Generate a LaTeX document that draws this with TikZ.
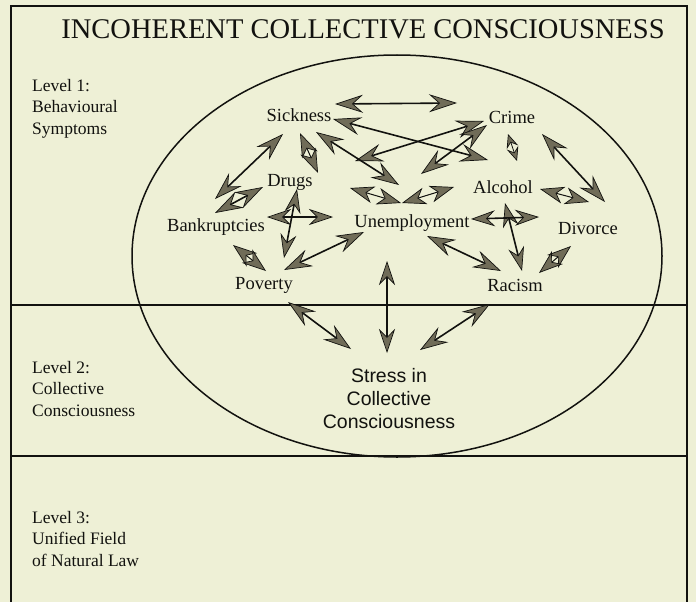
\documentclass[tikz,border=0pt]{standalone}
\usepackage{fontspec}
\setmainfont{Liberation Serif}
\newfontfamily\sansf{Liberation Sans}
\usetikzlibrary{arrows.meta}
\definecolor{bg}{RGB}{238,240,214}
\definecolor{ink}{RGB}{18,18,15}
\definecolor{headfill}{RGB}{112,108,88}
\tikzset{
  tipbig/.tip={Stealth[length=28pt,width=18pt,inset=10pt,fill=headfill,line width=0.7pt]},
  tipmid/.tip={Stealth[length=24pt,width=16pt,inset=8pt,fill=headfill,line width=0.7pt]},
  tipkite/.tip={Stealth[length=24pt,width=17pt,inset=7pt,fill=headfill,line width=0.7pt]},
  tiptiny/.tip={Stealth[length=14pt,width=12pt,inset=5pt,fill=headfill,line width=0.7pt]},
  arr/.style={draw=ink, line width=1.6pt, tipbig-tipbig},
  arrm/.style={draw=ink, line width=1.6pt, tipmid-tipmid},
  kite/.style={draw=ink, line width=1pt, tipkite-tipkite},
  star/.style={draw=ink, line width=0.8pt, tiptiny-tiptiny},
  lbl/.style={font=\fontsize{18.5}{20}\selectfont, inner sep=0pt, text=ink},
  lvl/.style={font=\fontsize{17.5}{21.5}\selectfont, align=left, anchor=north west, inner sep=0pt, text=ink},
  frame/.style={draw=ink, line width=1.4pt}
}
\begin{document}
\begin{tikzpicture}[x=1pt,y=-1pt]
\fill[bg] (0,0) rectangle (696,602);
\useasboundingbox (0,0) rectangle (696,602);
% frame and level separators
\draw[frame] (11,602) -- (11,6) -- (687,6) -- (687,602);
\draw[frame] (11,305) -- (687,305);
\draw[frame] (11,456) -- (687,456);
% ellipse
\draw[ink, line width=1.5pt] (397,256) ellipse [x radius=265pt, y radius=201pt];
% title
\node[font=\fontsize{28.5}{30}\selectfont, inner sep=0pt, text=ink] (title) at (363,29) {INCOHERENT COLLECTIVE CONSCIOUSNESS};
% level labels
\node[lvl] (lv1) at (32,79) {Level 1:\\Behavioural\\Symptoms};
\node[lvl] (lv2) at (32,361) {Level 2:\\Collective\\Consciousness};
\node[lvl] (lv3) at (32,511) {Level 3:\\Unified Field\\of Natural Law};
% symptom nodes
\node[lbl] (sick) at (299,115) {Sickness};
\node[lbl] (crime) at (512,117) {Crime};
\node[lbl] (drugs) at (290,182) {Drugs};
\node[lbl] (alc) at (503,187) {Alcohol};
\node[lbl] (bank) at (216,227) {Bankruptcies};
\node[lbl] (unemp) at (412,223) {Unemployment};
\node[lbl] (div) at (588,228) {Divorce};
\node[lbl] (pov) at (264,285) {Poverty};
\node[lbl] (rac) at (515,285) {Racism};
\node[font=\sansf\fontsize{19.5}{23}\selectfont, align=center, inner sep=0pt, text=ink] (stress) at (389,399) {Stress in\\Collective\\Consciousness};
% arrow end points
\coordinate (a1) at (335,104);  \coordinate (b1) at (457,103);
\coordinate (a2) at (333,119);  \coordinate (b2) at (488,160);
\coordinate (a3) at (484,121);  \coordinate (b3) at (355,161);
\coordinate (a4) at (487,125);  \coordinate (b4) at (421,174);
\coordinate (a5) at (316,132);  \coordinate (b5) at (399,185);
\coordinate (a6) at (350,188);  \coordinate (b6) at (401,203);
\coordinate (a7) at (402,203);  \coordinate (b7) at (454,187);
\coordinate (a8) at (283,134);  \coordinate (b8) at (215,199);
\coordinate (a9) at (300,133);  \coordinate (b9) at (318,173);
\coordinate (a10) at (263,187); \coordinate (b10) at (215,213);
\coordinate (a11) at (297,189); \coordinate (b11) at (284,258);
\coordinate (a12) at (267,217); \coordinate (b12) at (333,217);
\coordinate (a13) at (233,245); \coordinate (b13) at (266,271);
\coordinate (a14) at (284,270); \coordinate (b14) at (364,232);
\coordinate (a15) at (387,261); \coordinate (b15) at (387,353);
\coordinate (a16) at (288,302); \coordinate (b16) at (351,349);
\coordinate (a17) at (490,304); \coordinate (b17) at (420,350);
\coordinate (a18) at (427,236); \coordinate (b18) at (501,271);
\coordinate (a19) at (505,203); \coordinate (b19) at (522,271);
\coordinate (a20) at (471,219); \coordinate (b20) at (539,217);
\coordinate (a21) at (540,189); \coordinate (b21) at (589,202);
\coordinate (a22) at (542,134); \coordinate (b22) at (605,202);
\coordinate (a23) at (571,246); \coordinate (b23) at (539,273);
\coordinate (a24) at (508,134); \coordinate (b24) at (517,161);
% connectors
\draw[arr] (a1) -- (b1);
\draw[arr] (a2) -- (b2);
\draw[arr] (a3) -- (b3);
\draw[arr] (a4) -- (b4);
\draw[arr] (a5) -- (b5);
\draw[kite] (a6) -- (b6);
\draw[kite] (a7) -- (b7);
\draw[arr] (a8) -- (b8);
\draw[kite] (a9) -- (b9);
\draw[arr] (a10) -- (b10);
\draw[arrm] (a11) -- (b11);
\draw[arrm] (a12) -- (b12);
\draw[kite] (a13) -- (b13);
\draw[arr] (a14) -- (b14);
\draw[arrm] (a15) -- (b15);
\draw[arr] (a16) -- (b16);
\draw[arr] (a17) -- (b17);
\draw[arr] (a18) -- (b18);
\draw[arrm] (a19) -- (b19);
\draw[arrm] (a20) -- (b20);
\draw[kite] (a21) -- (b21);
\draw[arr] (a22) -- (b22);
\draw[kite] (a23) -- (b23);
\draw[star] (a24) -- (b24);
\end{tikzpicture}
\end{document}
